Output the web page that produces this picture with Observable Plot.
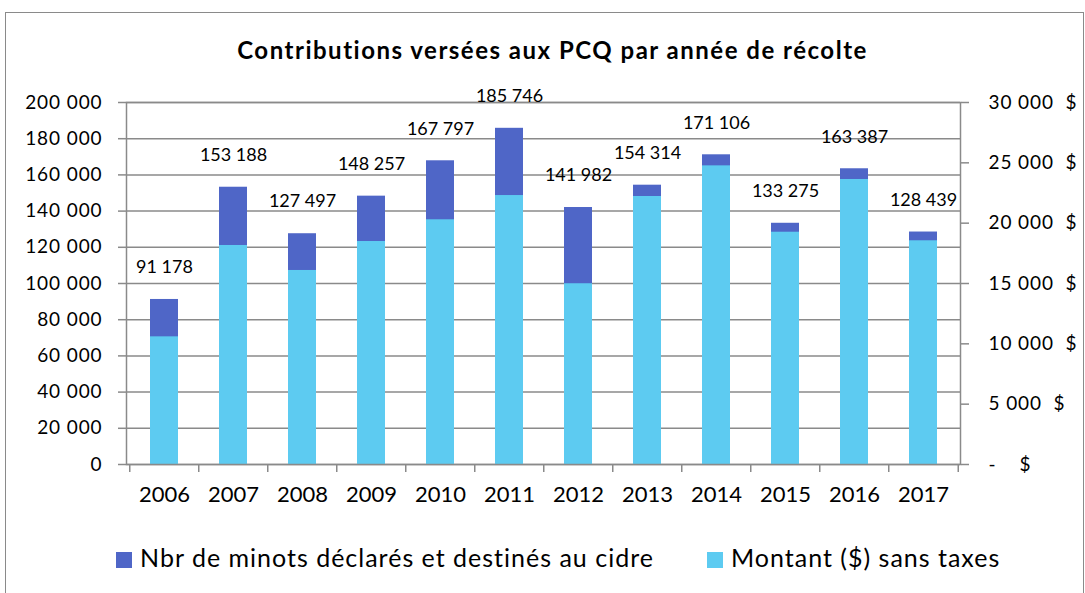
<!DOCTYPE html>
<html>
<head>
<meta charset="utf-8">
<script src="https://cdn.jsdelivr.net/npm/d3@7"></script>
<script src="https://cdn.jsdelivr.net/npm/@observablehq/plot@0.6"></script>
<style>
  body { margin: 0; background: #fff; font-family: Lato, "Open Sans", sans-serif; }
  #wrap { position: relative; width: 1085px; height: 593px; overflow: hidden; background: #fff; }
  #border { position: absolute; left: 5px; top: 12px; width: 1079px; height: 600px; border: 1.5px solid #8a8a8a; box-sizing: border-box; pointer-events: none; }
  #title { height: 44px; padding-top: 36px; line-height: 28px; text-align: center; padding-left: 20px; font-weight: 700; font-size: 24px; letter-spacing: 1.5px; color: #000; }
  #chart svg { display: block; }
  #chart svg g[aria-label="y-axis tick label"] text { letter-spacing: 0.9px; }
  #legend { height: 73px; position: relative; font-size: 25px; letter-spacing: 1px; color: #000; }
  .item { position: absolute; top: 22px; height: 30px; line-height: 30px; white-space: nowrap; }
  .sw { display: inline-block; width: 16px; height: 16px; margin-right: 8px; vertical-align: -1px; }
</style>
</head>
<body>
<div id="wrap">
  <div id="border"></div>
  <div id="title">Contributions versées aux PCQ par année de récolte</div>
  <div id="chart"></div>
  <div id="legend"></div>
</div>
<script>
// ---- data ----
const years = ["2006","2007","2008","2009","2010","2011","2012","2013","2014","2015","2016","2017"];
const minots = [91178,153188,127497,148257,167797,185746,141982,154314,171106,133275,163387,128439];
const montant = [10580,18150,16080,18480,20280,22290,14980,22210,24750,19250,23620,18540];
const leftTicks = [0,20000,40000,60000,80000,100000,120000,140000,160000,180000,200000];
const rightTicks = [0,5000,10000,15000,20000,25000,30000];
const seriesNames = ["Nbr de minots déclarés et destinés au cidre", "Montant ($) sans taxes"];
const colors = ["#4F66C7", "#5DCBF1"];

const leftMax = 200000, rightMax = 30000;
const ratio = leftMax / rightMax;
const table = years.map((y, i) => ({year: y, minots: minots[i], montant: montant[i]}));
const sp = v => d3.format(",")(v).replace(/,/g, " ");
const rightFmt = v => {
  const d = Math.round(v / ratio);
  return d === 0 ? "-\u00a0\u00a0\u00a0\u00a0$" : sp(d).replace(/ /g, "\u00a0") + "\u00a0\u00a0$";
};

const W = 1085, H = 440, mL = 126, mR = 125;
const step = (W - mL - mR) / years.length;

const chart = Plot.plot({
  width: W, height: H,
  marginTop: 22, marginBottom: 56, marginLeft: mL, marginRight: mR,
  style: {fontFamily: "Lato, 'Open Sans', sans-serif", background: "#fff", color: "#000"},
  x: {domain: years, type: "band", paddingInner: 0.6, paddingOuter: 0.3, axis: null},
  y: {domain: [0, leftMax], axis: null},
  marks: [
    Plot.gridY({ticks: leftTicks, stroke: "#8a8a8a", strokeOpacity: 1, strokeWidth: 1.5}),
    Plot.barY(table, {x: "year", y: "minots", fill: colors[0]}),
    Plot.barY(table, {x: "year", y: d => d.montant * ratio, fill: colors[1]}),
    Plot.frame({stroke: "#8a8a8a", strokeWidth: 1.5}),
    Plot.axisY({anchor: "left", ticks: leftTicks, tickFormat: sp, tickSize: 8, tickPadding: 16, stroke: "#8a8a8a", strokeWidth: 1.5, fontSize: 19, label: null}),
    Plot.axisY({anchor: "right", ticks: rightTicks.map(v => v * ratio), tickFormat: rightFmt, tickSize: 8, tickPadding: 20, stroke: "#8a8a8a", strokeWidth: 1.5, fontSize: 19, label: null}),
    Plot.axisX({tickSize: 8, tickFormat: () => "", dx: -step / 2, stroke: "#8a8a8a", strokeWidth: 1.5, label: null}),
    Plot.axisX({ticks: [years[years.length - 1]], tickSize: 8, tickFormat: () => "", dx: step / 2, stroke: "#8a8a8a", strokeWidth: 1.5, label: null}),
    Plot.axisX({tickSize: 0, tickPadding: 22, fontSize: 22, label: null}),
    Plot.text(table, {x: "year", y: "minots", text: d => sp(d.minots), dy: -32, fontSize: 18, fill: "#000"})
  ]
});
document.getElementById("chart").appendChild(chart);

const legend = document.getElementById("legend");
const lefts = [116, 707];
seriesNames.forEach((n, i) => {
  const it = document.createElement("div");
  it.className = "item";
  it.style.left = lefts[i] + "px";
  const sw = document.createElement("span");
  sw.className = "sw";
  sw.style.background = colors[i];
  it.appendChild(sw);
  it.appendChild(document.createTextNode(n));
  legend.appendChild(it);
});
</script>
</body>
</html>
